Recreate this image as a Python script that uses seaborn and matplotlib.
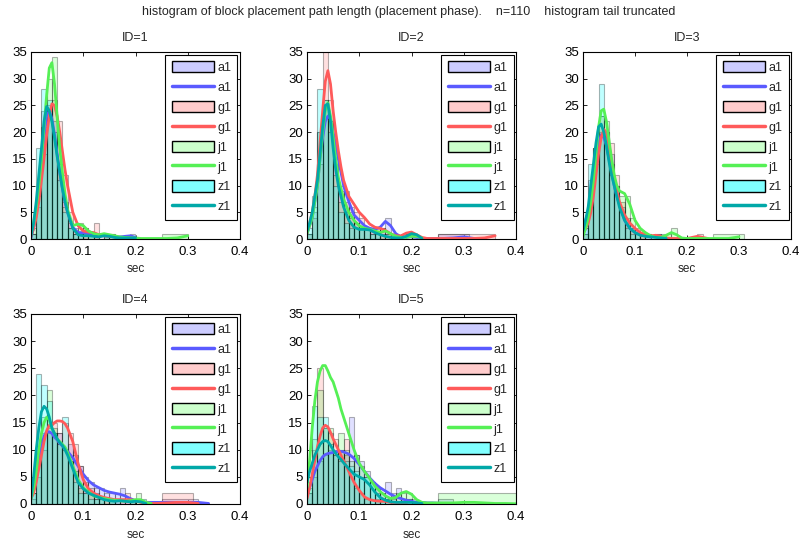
import numpy as np
import pandas as pd
import matplotlib
matplotlib.use("Agg")
import matplotlib.pyplot as plt
import seaborn as sns
from matplotlib.patches import Patch
from matplotlib.lines import Line2D

# ---------------- data ----------------
SUPTITLE = "histogram of block placement path length (placement phase).    n=110    histogram tail truncated"
PANEL_TITLES = ["ID=1", "ID=2", "ID=3", "ID=4", "ID=5"]
SERIES = ["a1", "g1", "j1", "z1"]
X_TICKS = [0, 0.1, 0.2, 0.3, 0.4]
X_TICK_LABELS = ["0", "0.1", "0.2", "0.3", "0.4"]
Y_TICKS = [0, 5, 10, 15, 20, 25, 30, 35]
X_LABEL = "sec"

# histogram bin edges (0 .. 0.25 in 0.01 steps), plus a truncated tail bin
BIN_EDGES = [0.00, 0.01, 0.02, 0.03, 0.04, 0.05, 0.06, 0.07, 0.08, 0.09,
             0.10, 0.11, 0.12, 0.13, 0.14, 0.15, 0.16, 0.17, 0.18, 0.19,
             0.20, 0.21, 0.22, 0.23, 0.24, 0.25]

# bar counts per panel / series
BARS_1_A1 = [1, 9, 24, 25, 22, 14, 7, 3, 1, 1, 1, 0, 1, 0, 0, 1, 0, 0, 0, 1, 0, 0, 0, 0, 0]
BARS_1_G1 = [1, 6, 16, 24, 26, 22, 12, 5, 2, 1, 2, 1, 3, 0, 1, 0, 0, 0, 0, 0, 0, 0, 0, 0, 0]
BARS_1_J1 = [2, 8, 21, 30, 34, 14, 6, 2, 1, 3, 2, 1, 1, 0, 1, 1, 0, 0, 0, 0, 0, 0, 0, 0, 0]
BARS_1_Z1 = [1, 17, 28, 26, 20, 11, 5, 2, 1, 1, 0, 1, 0, 0, 1, 0, 0, 0, 0, 0, 0, 0, 0, 0, 0]

BARS_2_A1 = [1, 5, 20, 25, 22, 15, 10, 9, 5, 3, 2, 2, 2, 1, 2, 4, 1, 0, 0, 0, 1, 0, 0, 0, 0]
BARS_2_G1 = [1, 4, 14, 36, 26, 14, 9, 7, 6, 5, 4, 2, 2, 2, 2, 1, 0, 0, 1, 1, 1, 0, 0, 0, 0]
BARS_2_J1 = [1, 6, 20, 26, 22, 12, 7, 5, 4, 3, 2, 2, 1, 2, 1, 1, 1, 0, 0, 0, 1, 0, 0, 0, 0]
BARS_2_Z1 = [2, 8, 28, 26, 20, 10, 5, 3, 2, 2, 2, 2, 1, 1, 0, 0, 0, 0, 0, 1, 1, 0, 0, 0, 0]

BARS_3_A1 = [2, 11, 17, 20, 19, 16, 10, 6, 3, 2, 1, 1, 1, 0, 1, 0, 0, 0, 0, 0, 0, 0, 0, 0, 0]
BARS_3_G1 = [1, 6, 14, 23, 20, 18, 12, 7, 4, 2, 2, 1, 1, 0, 1, 0, 0, 0, 0, 0, 0, 0, 1, 0, 0]
BARS_3_J1 = [1, 8, 17, 23, 22, 14, 10, 8, 8, 4, 1, 1, 0, 0, 0, 0, 1, 2, 0, 0, 0, 0, 0, 0, 0]
BARS_3_Z1 = [2, 14, 17, 29, 20, 12, 9, 5, 2, 1, 1, 0, 1, 0, 0, 1, 0, 0, 0, 0, 0, 0, 0, 0, 0]

BARS_4_A1 = [2, 8, 13, 13, 13, 13, 10, 11, 9, 7, 5, 4, 3, 3, 2, 2, 2, 3, 1, 1, 0, 0, 0, 0, 0]
BARS_4_G1 = [1, 5, 10, 14, 15, 13, 15, 13, 11, 7, 4, 3, 2, 1, 1, 1, 1, 1, 2, 1, 0, 0, 0, 0, 0]
BARS_4_J1 = [2, 9, 16, 21, 14, 11, 10, 8, 6, 3, 2, 2, 1, 1, 1, 1, 0, 0, 0, 1, 2, 0, 0, 0, 0]
BARS_4_Z1 = [2, 24, 22, 19, 13, 11, 16, 8, 4, 2, 2, 1, 1, 1, 0, 1, 1, 0, 0, 1, 0, 1, 0, 0, 0]

BARS_5_A1 = [2, 5, 8, 9, 10, 9, 10, 9, 16, 9, 8, 6, 4, 3, 2, 4, 2, 3, 1, 1, 0, 0, 0, 0, 0]
BARS_5_G1 = [2, 10, 25, 14, 13, 12, 10, 12, 6, 3, 2, 1, 0, 1, 0, 0, 0, 0, 0, 0, 0, 0, 0, 0, 0]
BARS_5_J1 = [3, 12, 21, 14, 14, 10, 13, 10, 8, 9, 7, 5, 4, 3, 2, 1, 1, 2, 2, 2, 1, 0, 0, 0, 0]
BARS_5_Z1 = [4, 18, 16, 16, 11, 9, 8, 8, 7, 6, 5, 5, 4, 2, 1, 1, 0, 0, 0, 1, 0, 0, 0, 0, 0]

# truncated tail bins: (count, end of bin) starting at 0.25; None = no tail
TAIL_1 = {"a1": None, "g1": None, "j1": (1, 0.30), "z1": None}
TAIL_2 = {"a1": (1, 0.31), "g1": (1, 0.36), "j1": None, "z1": None}
TAIL_3 = {"a1": None, "g1": None, "j1": (1, 0.31), "z1": None}
TAIL_4 = {"a1": (1, 0.32), "g1": (2, 0.31), "j1": None, "z1": None}
TAIL_5 = {"a1": (1, 0.28), "g1": None, "j1": (2, 0.40), "z1": None}

# smoothed density curves (scaled to counts) sampled at CURVE_X
CURVE_X = [0.0, 0.005, 0.01, 0.015, 0.02, 0.025, 0.03, 0.035, 0.04, 0.045,
           0.05, 0.055, 0.06, 0.065, 0.07, 0.08, 0.09, 0.10, 0.11, 0.12,
           0.13, 0.14, 0.15, 0.16, 0.17, 0.18, 0.19, 0.20, 0.21, 0.22,
           0.23, 0.24, 0.26, 0.28, 0.30, 0.32, 0.34, 0.36, 0.38, 0.40]

KDE_1_A1 = [0.3, 2, 5, 9, 14, 19, 23, 24, 22.5, 19.5, 16, 12.5, 9.5, 7, 5, 2.2, 1.2, 1.2, 1.0, 0.8, 0.6, 0.6, 0.5, 0.4, 0.4, 0.5, 0.6, 0.3]
KDE_1_G1 = [0.5, 2, 4, 7, 11, 15, 19.5, 23, 25.3, 25, 23, 20, 16.5, 13, 10, 5, 2.5, 1.5, 1.3, 1.2, 0.8, 0.6, 0.5, 0.4, 0.3, 0.2, 0.2, 0.1]
KDE_1_J1 = [1, 3, 6, 10, 15, 21, 27, 32, 33, 29, 23, 17, 12.5, 8.5, 5.5, 2.5, 2.8, 2.5, 1.5, 1.0, 0.8, 1.0, 0.8, 0.6, 0.4, 0.3, 0.2, 0.2, 0.1, 0.1, 0.1, 0.1, 0.1, 0.2, 0.6]
KDE_1_Z1 = [0.5, 3, 7, 12, 17, 22, 24.8, 24, 22, 19, 15.5, 12.5, 9.5, 7, 5, 2, 0.8, 0.6, 0.6, 0.5, 0.4, 0.6, 0.5, 0.3, 0.2, 0.2, 0.2, 0.2]

KDE_2_A1 = [1, 2.5, 4, 7, 10, 15, 19, 22, 23, 22.5, 20, 17.5, 15, 12.5, 10, 7, 4.5, 3.5, 2.5, 2, 1.8, 2.2, 3.3, 2.5, 1, 0.4, 0.3, 0.5, 0.3, 0.1, 0.1, 0.1, 0.1, 0.2, 0.4, 0.1]
KDE_2_G1 = [1, 3, 5, 8, 12, 18, 24, 29.5, 31.5, 29, 24, 20, 16.5, 13.5, 11, 8, 6.5, 5, 4, 2.8, 2.2, 2, 1.6, 1.0, 0.6, 0.6, 1.1, 1.3, 0.8, 0.3, 0.1, 0.1, 0.1, 0.1, 0.1, 0.1, 0.2, 0.6]
KDE_2_J1 = [1, 2.5, 4, 7, 10, 15, 20, 24, 25.5, 23, 19, 15, 11.5, 9.5, 7.5, 5, 3.5, 2.5, 2, 1.8, 1.5, 1.2, 1.5, 1.0, 0.5, 0.3, 0.3, 0.5, 0.5, 0.2]
KDE_2_Z1 = [1.5, 3, 5, 8, 11, 16, 21, 25, 25.3, 22, 17, 13, 10, 8, 6, 3.5, 2.2, 1.8, 1.8, 1.7, 1.2, 0.8, 0.5, 0.3, 0.2, 0.2, 0.5, 1.0, 0.8, 0.1]

KDE_3_A1 = [2, 3.5, 5, 8, 11, 15, 18, 19.5, 19, 17.5, 15, 12.5, 10, 8, 6.5, 3.5, 2, 1.2, 0.8, 0.6, 0.4, 0.4, 0.3, 0.2]
KDE_3_G1 = [1, 2, 3, 5, 8, 12, 16, 19, 20.5, 20, 17.5, 14.5, 11.5, 9, 7, 4.5, 3, 2, 1.2, 0.8, 0.6, 0.7, 0.5, 0.2, 0.1, 0.1, 0.1, 0.1, 0.3, 0.5, 0.3, 0.1]
KDE_3_J1 = [0.5, 2, 4, 7, 11, 16, 21, 24, 24.3, 22, 18.5, 15, 12, 10, 9, 8.5, 6.5, 3.5, 2, 1.2, 0.6, 0.3, 0.3, 0.7, 1.2, 0.8, 0.2, 0.1, 0.1, 0.1, 0.1, 0.1, 0.1, 0.1, 0.4]
KDE_3_Z1 = [1.5, 3.5, 6, 10, 14, 18, 21, 21.5, 20, 17.5, 14.5, 12, 10, 8, 6, 3.5, 2, 1.2, 0.7, 0.5, 0.4, 0.3, 0.2, 0.1]

KDE_4_A1 = [2, 3.5, 5.5, 8, 10.5, 12.5, 13.3, 13.3, 13, 12.3, 11.8, 11.2, 10.7, 10.2, 9.7, 8.5, 7, 5.5, 4.3, 3.5, 3, 2.5, 2.2, 2.0, 1.8, 1.5, 1.0, 0.6, 0.4, 0.3, 0.3, 0.3, 0.3, 0.3, 0.3, 0.3, 0.1]
KDE_4_G1 = [1, 2, 4, 6.5, 9, 11.5, 13.5, 14.5, 14.5, 15, 15.3, 15.3, 15.2, 14.8, 14, 11.5, 7.5, 4.5, 2.8, 2, 1.5, 1.2, 1.0, 0.8, 0.8, 0.8, 0.8, 0.6, 0.3, 0.2, 0.1, 0.1, 0.2, 0.3, 0.3, 0.1]
KDE_4_J1 = [1, 3, 6, 10, 13, 15, 16, 15.5, 14, 13, 12, 11.5, 11, 10.5, 9.5, 7, 4.5, 3, 2.2, 1.5, 1.2, 1.0, 0.8, 0.7, 0.6, 0.5, 0.6, 0.8, 0.8, 0.3, 0.1]
KDE_4_Z1 = [1, 5, 10, 14, 17, 18, 17.5, 16, 14, 13, 12, 11.3, 10.8, 10, 9, 6.5, 4, 2.8, 2, 1.6, 1.2, 0.8, 0.6, 0.5, 0.6, 0.5, 0.4, 0.5, 0.4, 0.1]

KDE_5_A1 = [1.5, 3, 4.5, 6, 7, 8, 8.7, 9.1, 9.3, 9.4, 9.5, 9.6, 9.7, 9.7, 9.6, 9.2, 8.4, 7.3, 6, 4.8, 3.8, 3, 2.4, 1.8, 1.3, 1.0, 0.7, 0.5, 0.3, 0.3, 0.2, 0.2, 0.1, 0.05]
KDE_5_G1 = [1, 3, 5.5, 8, 10.5, 12.5, 14, 14.5, 14.2, 13.2, 12, 11, 10, 9, 8, 6, 4, 2.5, 1.3, 0.8, 0.6, 0.5, 0.5, 0.3, 0.2, 0.2, 0.1]
KDE_5_J1 = [3, 8, 14, 19, 22.5, 24.5, 25.5, 25.5, 24.5, 23.3, 22.5, 21, 19.5, 17.5, 16, 13, 10, 7.5, 6, 4.7, 3.3, 2.3, 1.5, 1.0, 1.2, 2.0, 2.3, 1.8, 0.8, 0.3, 0.2, 0.2, 0.2, 0.2, 0.3, 0.3, 0.2, 0.1, 0.1, 0.05]
KDE_5_Z1 = [4, 6, 7.5, 9, 10, 11, 11.5, 11.7, 11.5, 10.8, 10, 9.3, 8.7, 8.2, 7.6, 6.5, 5.5, 5, 4.5, 3.5, 2.2, 1.2, 0.7, 0.4, 0.3, 0.3, 0.3, 0.3, 0.2, 0.1]

PANELS = [
    ({"a1": BARS_1_A1, "g1": BARS_1_G1, "j1": BARS_1_J1, "z1": BARS_1_Z1}, TAIL_1,
     {"a1": KDE_1_A1, "g1": KDE_1_G1, "j1": KDE_1_J1, "z1": KDE_1_Z1}),
    ({"a1": BARS_2_A1, "g1": BARS_2_G1, "j1": BARS_2_J1, "z1": BARS_2_Z1}, TAIL_2,
     {"a1": KDE_2_A1, "g1": KDE_2_G1, "j1": KDE_2_J1, "z1": KDE_2_Z1}),
    ({"a1": BARS_3_A1, "g1": BARS_3_G1, "j1": BARS_3_J1, "z1": BARS_3_Z1}, TAIL_3,
     {"a1": KDE_3_A1, "g1": KDE_3_G1, "j1": KDE_3_J1, "z1": KDE_3_Z1}),
    ({"a1": BARS_4_A1, "g1": BARS_4_G1, "j1": BARS_4_J1, "z1": BARS_4_Z1}, TAIL_4,
     {"a1": KDE_4_A1, "g1": KDE_4_G1, "j1": KDE_4_J1, "z1": KDE_4_Z1}),
    ({"a1": BARS_5_A1, "g1": BARS_5_G1, "j1": BARS_5_J1, "z1": BARS_5_Z1}, TAIL_5,
     {"a1": KDE_5_A1, "g1": KDE_5_G1, "j1": KDE_5_J1, "z1": KDE_5_Z1}),
]

# ---------------- styles ----------------
BAR_FACE = {"a1": (0, 0, 1, 0.12), "g1": (1, 0, 0, 0.12), "j1": (0, 1, 0, 0.15), "z1": (0, 1, 1, 0.25)}
LEGEND_FACE = {"a1": "#ccccff", "g1": "#ffcccc", "j1": "#ccffcc", "z1": "#80ffff"}
LINE_COLOR = {"a1": "#5a5aff", "g1": "#ff5a5a", "j1": "#55f055", "z1": "#00a8a8"}
BAR_EDGE = (0, 0, 0, 0.3)

sns.set_style("ticks")
plt.rcParams["font.family"] = ["Liberation Sans", "DejaVu Sans"]
plt.rcParams["font.size"] = 9

W, H = 799, 543
fig = plt.figure(figsize=(W / 100, H / 100), dpi=100)

# axes boxes in pixels: (left, top, right, bottom)
BOXES = [(31, 52, 240, 239), (307, 52, 516, 239), (583, 52, 791, 239),
         (31, 314, 240, 504), (307, 314, 516, 504)]

for idx, (bars, tails, kdes) in enumerate(PANELS):
    l, t, r, b = BOXES[idx]
    ax = fig.add_axes([l / W, 1 - b / H, (r - l) / W, (b - t) / H])
    for s in SERIES:
        counts = list(bars[s])
        edges = list(BIN_EDGES)
        centers = [(edges[i] + edges[i + 1]) / 2 for i in range(len(counts))]
        tail = tails[s]
        if tail is not None:
            h, end = tail
            edges.append(end)
            centers.append((BIN_EDGES[-1] + end) / 2)
            counts.append(h)
        sns.histplot(x=centers, weights=counts, bins=edges, stat="count",
                     element="bars", fill=True, facecolor=BAR_FACE[s],
                     edgecolor=BAR_EDGE, linewidth=0.8, ax=ax)
    for s in SERIES:
        vals = kdes[s]
        sns.lineplot(x=CURVE_X[:len(vals)], y=vals, color=LINE_COLOR[s],
                     linewidth=2.0, ax=ax, estimator=None, errorbar=None)
    ax.set_xlim(0, 0.4)
    ax.set_ylim(0, 35)
    ax.set_xticks(X_TICKS)
    ax.set_xticklabels(X_TICK_LABELS)
    ax.set_yticks(Y_TICKS)
    ax.set_ylabel("")
    ax.set_xlabel(X_LABEL, fontsize=8.5, labelpad=4)
    ax.set_title(PANEL_TITLES[idx], fontsize=9, pad=8)
    ax.tick_params(direction="in", top=True, right=True, length=3, width=0.6,
                   labelsize=9.5, colors="black")
    ax.tick_params(axis="x", pad=5)
    ax.tick_params(axis="y", pad=3)
    for sp in ax.spines.values():
        sp.set_visible(True)
        sp.set_color("black")
        sp.set_linewidth(0.8)
    handles, labels = [], []
    for s in SERIES:
        handles.append(Patch(facecolor=LEGEND_FACE[s], edgecolor="black", linewidth=1.0))
        labels.append(s)
        handles.append(Line2D([], [], color=LINE_COLOR[s], linewidth=2.5))
        labels.append(s)
    leg = ax.legend(handles, labels, loc="upper right", frameon=True, fancybox=False,
                    edgecolor="black", framealpha=1, fontsize=9,
                    handlelength=3.4, handleheight=1.05, labelspacing=0.55,
                    handletextpad=0.25, borderpad=0.5, borderaxespad=0.2)
    leg.get_frame().set_linewidth(0.8)

fig.text(409 / W, 1 - 12 / H, SUPTITLE, ha="center", va="center", fontsize=9)

fig.savefig("out.png", dpi=100)
